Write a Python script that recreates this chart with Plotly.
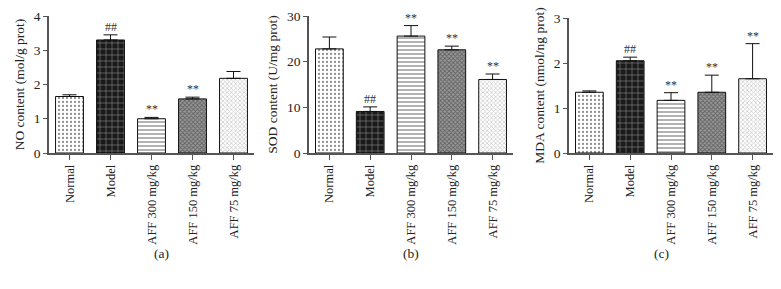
import plotly.graph_objects as go

groups = ["Normal", "Model", "AFF 300 mg/kg", "AFF 150 mg/kg", "AFF 75 mg/kg"]

no_vals = [1.65, 3.30, 1.00, 1.58, 2.18]
no_err = [0.05, 0.15, 0.04, 0.05, 0.20]
no_marks = ["", "##", "**", "**", ""]

sod_vals = [22.8, 9.1, 25.6, 22.6, 16.1]
sod_err = [2.6, 1.0, 2.3, 0.8, 1.2]
sod_marks = ["", "##", "**", "**", "**"]

mda_vals = [1.35, 2.05, 1.17, 1.35, 1.65]
mda_err = [0.03, 0.08, 0.17, 0.38, 0.78]
mda_marks = ["", "##", "**", "**", "**"]

y_titles = ["NO content (mol/g prot)", "SOD content (U/mg prot)", "MDA content (nmol/ng prot)"]
y_ranges = [[0, 4], [0, 30], [0, 3]]
y_dtick = [1, 10, 1]
panel_labels = ["(a)", "(b)", "(c)"]

patterns = [
    dict(shape=".", bgcolor="white", fgcolor="#222", size=4, solidity=0.25),
    dict(shape="+", bgcolor="#1a1a1a", fgcolor="white", size=6, solidity=0.18),
    dict(shape="-", bgcolor="white", fgcolor="#222", size=4, solidity=0.35),
    dict(shape="x", bgcolor="#9a9a9a", fgcolor="#2a2a2a", size=3, solidity=0.5),
    dict(shape="x", bgcolor="white", fgcolor="#999", size=3, solidity=0.45),
]

W, H = 781, 289
x_domains = [[49 / W, 254 / W], [309 / W, 513 / W], [569 / W, 773 / W]]
y_domains = [[(H - 153) / H, (H - 16) / H], [(H - 153) / H, (H - 16) / H], [(H - 153) / H, (H - 18) / H]]

FONT = "Liberation Serif, Times New Roman, serif"
FS = 13.5
FX = 12.5

fig = go.Figure()
datasets = [(no_vals, no_err, no_marks), (sod_vals, sod_err, sod_marks), (mda_vals, mda_err, mda_marks)]
annotations = []
for p, (vals, errs, marks) in enumerate(datasets):
    xa = "x" if p == 0 else f"x{p+1}"
    ya = "y" if p == 0 else f"y{p+1}"
    for i, g in enumerate(groups):
        fig.add_trace(go.Bar(
            x=[g], y=[vals[i]], xaxis=xa, yaxis=ya, width=0.68,
            marker=dict(color="white", line=dict(color="#111", width=1), pattern=patterns[i]),
            error_y=dict(type="data", symmetric=False, array=[errs[i]], arrayminus=[0],
                         color="#111", thickness=1, width=7),
            showlegend=False,
        ))
        if marks[i]:
            annotations.append(dict(
                x=g, y=vals[i] + errs[i], xref=xa, yref=ya, text=marks[i], showarrow=False,
                yanchor="bottom", yshift=-1, font=dict(family=FONT, size=12, color="#333"),
            ))
    xd = x_domains[p]
    annotations.append(dict(
        x=(xd[0] + xd[1]) / 2, y=(H - 263) / H, xref="paper", yref="paper", text=panel_labels[p],
        showarrow=False, font=dict(family=FONT, size=FS, color="#222"),
    ))

layout = dict(
    width=W, height=H, margin=dict(l=0, r=0, t=0, b=0),
    paper_bgcolor="white", plot_bgcolor="white", bargap=0.32,
    font=dict(family=FONT, size=FS, color="#222"),
    annotations=annotations,
)
for p in range(3):
    xk = "xaxis" if p == 0 else f"xaxis{p+1}"
    yk = "yaxis" if p == 0 else f"yaxis{p+1}"
    ya = "y" if p == 0 else f"y{p+1}"
    xa = "x" if p == 0 else f"x{p+1}"
    layout[xk] = dict(
        domain=x_domains[p], anchor=ya, type="category", categoryorder="array", categoryarray=groups,
        range=[-0.5, 4.5], showline=True, linecolor="#555", linewidth=1.5, ticks="outside",
        ticklen=5, tickcolor="#555", tickangle=-90, showgrid=False, zeroline=False,
        tickfont=dict(family=FONT, size=FX, color="#222"), automargin=False,
    )
    layout[yk] = dict(
        domain=y_domains[p], anchor=xa, range=y_ranges[p], dtick=y_dtick[p], showline=True,
        linecolor="#555", linewidth=1.5, ticks="outside", ticklen=4, tickcolor="#555",
        showgrid=False, zeroline=False, tickfont=dict(family=FONT, size=FS, color="#222"),
        title=dict(text=y_titles[p], font=dict(family=FONT, size=FS, color="#222"), standoff=6),
        automargin=False,
    )
fig.update_layout(**layout)
fig.write_html("out.html", config={"displayModeBar": False},
               post_script="document.body.style.margin='0px';document.body.style.overflow='hidden';")
